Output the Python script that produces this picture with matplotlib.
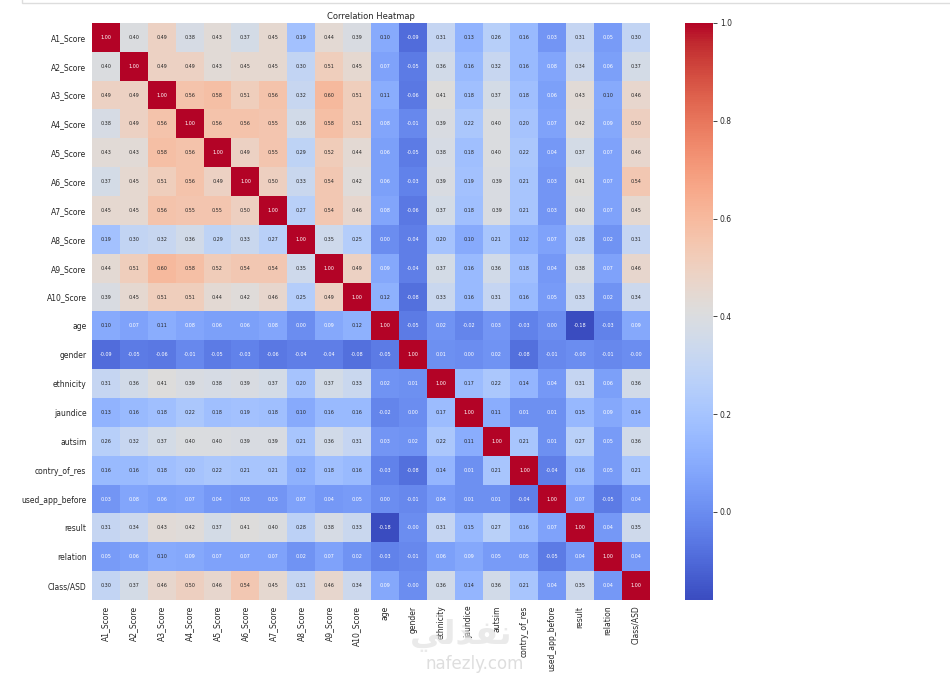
import numpy as np
import matplotlib
matplotlib.use("Agg")
import matplotlib.pyplot as plt
from matplotlib.patches import Rectangle

# Feature names on both axes
labels = ["A1_Score", "A2_Score", "A3_Score", "A4_Score", "A5_Score", "A6_Score", "A7_Score",
          "A8_Score", "A9_Score", "A10_Score", "age", "gender", "ethnicity", "jaundice", "autsim",
          "contry_of_res", "used_app_before", "result", "relation", "Class/ASD"]

# Correlation values, one list per row
a1 = [1.00, .40, .49, .38, .43, .37, .45, .19, .44, .39, .10, -.09, .31, .13, .26, .16, .03, .31, .05, .30]
a2 = [.40, 1.00, .49, .49, .43, .45, .45, .30, .51, .45, .07, -.05, .36, .16, .32, .16, .08, .34, .06, .37]
a3 = [.49, .49, 1.00, .56, .58, .51, .56, .32, .60, .51, .11, -.06, .41, .18, .37, .18, .06, .43, .10, .46]
a4 = [.38, .49, .56, 1.00, .56, .56, .55, .36, .58, .51, .08, -.01, .39, .22, .40, .20, .07, .42, .09, .50]
a5 = [.43, .43, .58, .56, 1.00, .49, .55, .29, .52, .44, .06, -.05, .38, .18, .40, .22, .04, .37, .07, .46]
a6 = [.37, .45, .51, .56, .49, 1.00, .50, .33, .54, .42, .06, -.03, .39, .19, .39, .21, .03, .41, .07, .54]
a7 = [.45, .45, .56, .55, .55, .50, 1.00, .27, .54, .46, .08, -.06, .37, .18, .39, .21, .03, .40, .07, .45]
a8 = [.19, .30, .32, .36, .29, .33, .27, 1.00, .35, .25, .00, -.04, .20, .10, .21, .12, .07, .28, .02, .31]
a9 = [.44, .51, .60, .58, .52, .54, .54, .35, 1.00, .49, .09, -.04, .37, .16, .36, .18, .04, .38, .07, .46]
a10 = [.39, .45, .51, .51, .44, .42, .46, .25, .49, 1.00, .12, -.08, .33, .16, .31, .16, .05, .33, .02, .34]
age = [.10, .07, .11, .08, .06, .06, .08, .00, .09, .12, 1.00, -.05, .02, -.02, .03, -.03, .00, -.18, -.03, .09]
gender = [-.09, -.05, -.06, -.01, -.05, -.03, -.06, -.04, -.04, -.08, -.05, 1.00, .01, .00, .02, -.08, -.01, -.00, -.01, -.00]
ethnicity = [.31, .36, .41, .39, .38, .39, .37, .20, .37, .33, .02, .01, 1.00, .17, .22, .14, .04, .31, .06, .36]
jaundice = [.13, .16, .18, .22, .18, .19, .18, .10, .16, .16, -.02, .00, .17, 1.00, .11, .01, .01, .15, .09, .14]
autsim = [.26, .32, .37, .40, .40, .39, .39, .21, .36, .31, .03, .02, .22, .11, 1.00, .21, .01, .27, .05, .36]
contry = [.16, .16, .18, .20, .22, .21, .21, .12, .18, .16, -.03, -.08, .14, .01, .21, 1.00, -.04, .16, .05, .21]
used_app = [.03, .08, .06, .07, .04, .03, .03, .07, .04, .05, .00, -.01, .04, .01, .01, -.04, 1.00, .07, -.05, .04]
result = [.31, .34, .43, .42, .37, .41, .40, .28, .38, .33, -.18, -.00, .31, .15, .27, .16, .07, 1.00, .04, .35]
relation = [.05, .06, .10, .09, .07, .07, .07, .02, .07, .02, -.03, -.01, .06, .09, .05, .05, -.05, .04, 1.00, .04]
class_asd = [.30, .37, .46, .50, .46, .54, .45, .31, .46, .34, .09, -.00, .36, .14, .36, .21, .04, .35, .04, 1.00]

cbar_ticks = [0.0, 0.2, 0.4, 0.6, 0.8, 1.0]

corr = np.array([a1, a2, a3, a4, a5, a6, a7, a8, a9, a10, age, gender, ethnicity, jaundice,
                 autsim, contry, used_app, result, relation, class_asd])

W, H = 950, 675
text_color = "#262626"
fig = plt.figure(figsize=(W / 100, H / 100), dpi=100)

# Axes placed in pixel positions of the reference
ax = fig.add_axes([92 / W, 1 - 600 / H, 558 / W, 577 / H])
im = ax.imshow(corr, cmap="coolwarm", vmin=-0.18, vmax=1.0, aspect="auto", interpolation="nearest")


def luminance(value):
    # Relative luminance of the cell colour, for choosing the text colour
    rgb = np.array(im.cmap(im.norm(value))[:3])
    rgb = np.where(rgb <= 0.03928, rgb / 12.92, ((rgb + 0.055) / 1.055) ** 2.4)
    return rgb.dot([0.2126, 0.7152, 0.0722])


# In the reference the text turns dark between 0.09 and 0.10
threshold = luminance(0.095)

# Cell annotations
for i in range(corr.shape[0]):
    for j in range(corr.shape[1]):
        color = "white" if luminance(corr[i, j]) < threshold else text_color
        ax.text(j, i, f"{corr[i, j]:.2f}", ha="center", va="center", fontsize=3.5, color=color)

ax.set_xticks(np.arange(len(labels)))
ax.set_yticks(np.arange(len(labels)))
ax.set_xticklabels(labels, rotation=90, fontsize=5.5, color=text_color)
ax.set_yticklabels(labels, rotation=0, fontsize=5.5, color=text_color)
ax.tick_params(length=0, pad=4)
for spine in ax.spines.values():
    spine.set_visible(False)
ax.set_title("Correlation Heatmap", fontsize=6, color=text_color, pad=3)

# Colorbar
cax = fig.add_axes([685 / W, 1 - 600 / H, 28 / W, 577 / H])
cbar = fig.colorbar(im, cax=cax, ticks=cbar_ticks)
cbar.outline.set_visible(False)
cbar.ax.tick_params(labelsize=5.5, length=3, width=0.6, pad=2, labelcolor=text_color, color=text_color)

# Edge of the notebook cell above the chart
fig.add_artist(Rectangle((22 / W, 1 - 3 / H), 1.0, 0.1, transform=fig.transFigure,
                         facecolor="white", edgecolor="#dddddd", linewidth=1))

# Site watermark over the bottom labels
fig.text(0.485, 1 - 635 / H, "\ufef2\ufedf\ufeac\ufed4\ufee7", ha="center", va="center",
         fontsize=24, fontweight="bold", color="#dcdcdc", alpha=0.6, family="DejaVu Sans")
fig.text(0.5, 1 - 664 / H, "nafezly.com", ha="center", va="center",
         fontsize=12, color="#dedede")

fig.savefig("out.png", dpi=100)
